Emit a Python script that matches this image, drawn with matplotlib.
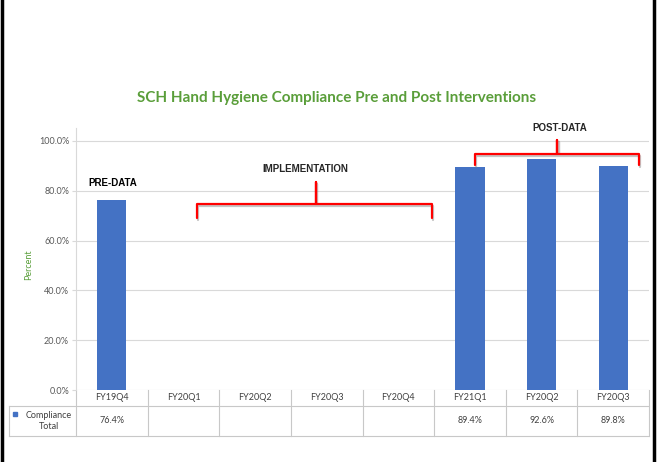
import numpy as np
import matplotlib.pyplot as plt
from matplotlib.lines import Line2D
import matplotlib.patheffects as pe

# data
quarters = ['FY19Q4', 'FY20Q1', 'FY20Q2', 'FY20Q3', 'FY20Q4', 'FY21Q1', 'FY20Q2', 'FY20Q3']
compliance = [76.4, None, None, None, None, 89.4, 92.6, 89.8]
yticks = [0, 20, 40, 60, 80, 100]

vals = np.array([np.nan if v is None else v / 100 for v in compliance])
x = np.arange(len(quarters))

W, H = 661, 462
fig = plt.figure(figsize=(W / 100, H / 100), dpi=100)
ax = fig.add_axes([76 / W, 72 / H, 573 / W, 262 / H])

ax.bar(x, vals, width=0.41, color='#4472C4', zorder=2)
ax.set_xlim(-0.5, 7.5)
ax.set_ylim(0, 1.052)
ax.set_yticks([t / 100 for t in yticks])
ax.set_yticklabels(['%.1f%%' % t for t in yticks], fontsize=6.5, color='#595959', family='Lato')
ax.tick_params(axis='y', length=3, width=0.8, color='#d9d9d9', pad=2)
ax.set_xticks([])
ax.grid(axis='y', color='#d9d9d9', lw=0.8)
ax.set_axisbelow(True)
for s in ['top', 'right', 'bottom']:
    ax.spines[s].set_visible(False)
ax.spines['left'].set_color('#d9d9d9')
ax.spines['left'].set_linewidth(0.8)

ax.set_ylabel('Percent', fontsize=6.5, color='#5a9e3a', family='Lato')
ax.yaxis.set_label_coords(-0.075, 0.477)

fig.text(337 / W, 1 - 98 / H, 'SCH Hand Hygiene Compliance Pre and Post Interventions',
         ha='center', va='center', fontsize=11, fontweight='bold', color='#5a9e3a', family='Lato')

# data table under the axis
tr = ax.get_xaxis_transform()
gc = '#c8c8c8'
y_hdr, y_bot, x_left = -0.061, -0.1756, -0.117
for i in range(len(quarters) + 1):
    ax.add_line(Line2D([i - 0.5, i - 0.5], [0, y_bot], transform=tr, color=gc, lw=0.8, clip_on=False))
for yy in [y_hdr, y_bot]:
    ax.add_line(Line2D([x_left, 1], [yy, yy], transform=ax.transAxes, color=gc, lw=0.8, clip_on=False))
ax.add_line(Line2D([x_left, x_left], [y_hdr, y_bot], transform=ax.transAxes, color=gc, lw=0.8, clip_on=False))

for i, q in enumerate(quarters):
    ax.text(i, -0.03, q, transform=tr, ha='center', va='center', fontsize=6.5, color='#404040', family='Lato')
    if compliance[i] is not None:
        ax.text(i, -0.118, '%.1f%%' % compliance[i], transform=tr, ha='center', va='center',
                fontsize=6.5, color='#404040', family='Lato')
ax.text(-0.048, -0.118, 'Compliance\nTotal', transform=ax.transAxes, ha='center', va='center',
        fontsize=6.5, color='#404040', family='Lato', linespacing=1.3)
ax.plot([-0.106], [-0.093], marker='s', ms=3.5, color='#4472C4', transform=ax.transAxes, clip_on=False)

# annotations
sh = [pe.SimpleLineShadow(offset=(1, -1.5), shadow_color='gray', alpha=0.45), pe.Normal()]
ax.text(0.02, 0.83, 'PRE-DATA', ha='center', va='center', fontsize=7, fontweight='bold', family='Liberation Sans')
ax.text(2.7, 0.888, 'IMPLEMENTATION', ha='center', va='center', fontsize=7, fontweight='bold',
        family='Liberation Sans', color='#262626')
ax.text(6.26, 1.052, 'POST-DATA', ha='center', va='center', fontsize=7, fontweight='bold',
        family='Liberation Sans', color='#262626', clip_on=False)


def bracket(x0, x1, xm, yh, yd, yu):
    ax.plot([x0, x0, xm, xm, xm, x1, x1], [yd, yh, yh, yu, yh, yh, yd], color='red', lw=1.6,
            solid_joinstyle='round', solid_capstyle='round', path_effects=sh, clip_on=False, zorder=4)


bracket(1.19, 4.47, 2.85, 0.747, 0.69, 0.835)
bracket(5.07, 7.36, 6.22, 0.948, 0.904, 1.004)

# frame lines at the sides
fig.add_artist(Line2D([2 / W, 2 / W], [0, 1], transform=fig.transFigure, color='black', lw=2.5))
fig.add_artist(Line2D([654 / W, 654 / W], [0, 1], transform=fig.transFigure, color='black', lw=2.5))

fig.savefig('out.png', dpi=100, facecolor='white')
